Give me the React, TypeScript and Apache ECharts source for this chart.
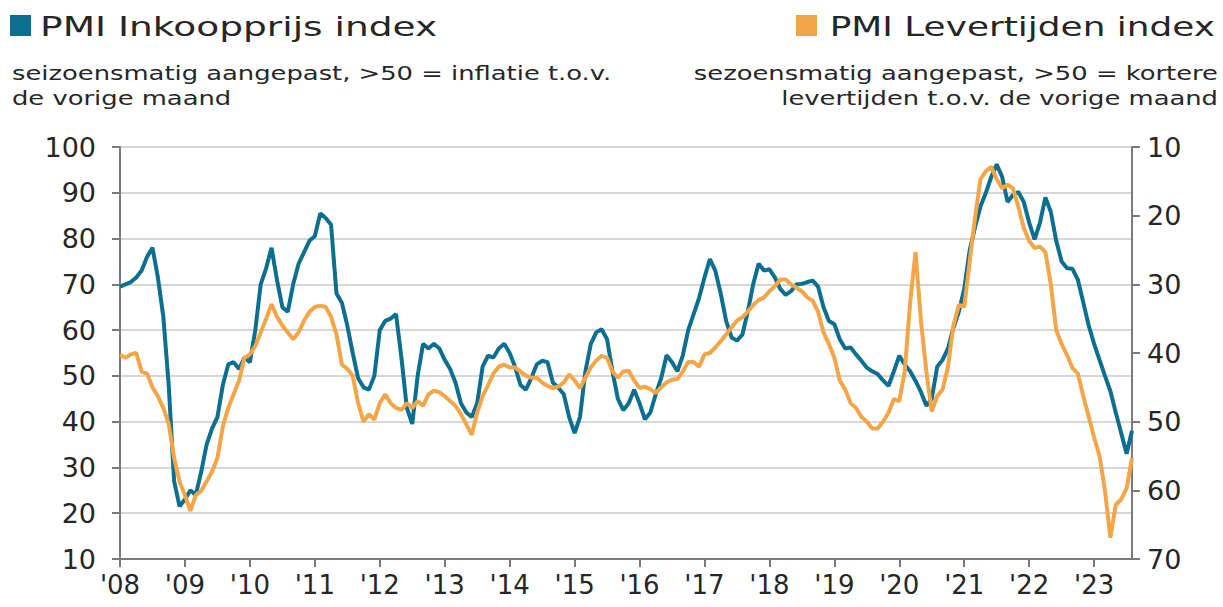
import React, { useEffect, useRef } from "react";
import * as echarts from "echarts";

// Monthly data, Jan 2008 .. Aug 2023
const startYear = 2008;

// PMI Inkoopprijs index (left axis)
const inkoopprijs: number[] = [
  // 2008
  69.5, 70, 70.5, 71.5, 73, 76, 78, 71.5, 63, 48, 27, 21.5,
  // 2009
  23, 25, 24, 29, 35, 38.5, 41, 48, 52.5, 53, 51.5, 54,
  // 2010
  53, 60, 70, 73.5, 78, 71, 65, 64, 70, 74.5, 77, 79.5,
  // 2011
  80.5, 85.5, 84.5, 83, 68, 66, 61, 55, 49.5, 47.5, 47, 50,
  // 2012
  60, 62, 62.5, 63.5, 54, 43, 39.5, 50, 57, 56, 57, 56,
  // 2013
  53.5, 51.5, 48.5, 44, 42, 41, 44, 52, 54.4, 54, 56, 57,
  // 2014
  55, 52, 48, 47, 49.5, 52.5, 53.3, 53, 48.5, 47.4, 46, 41,
  // 2015
  37.5, 41, 51, 57, 59.5, 60.2, 58, 51, 45, 42.5, 44, 47,
  // 2016
  44, 40.5, 42, 46, 49.5, 54.5, 53, 51, 54.5, 60, 63.5, 67,
  // 2017
  71.5, 75.5, 73, 68, 62, 58.4, 57.7, 59, 64, 70, 74.5, 73,
  // 2018
  73.3, 71.5, 69, 67.7, 68.5, 70, 70.1, 70.5, 70.8, 69.5, 65, 62,
  // 2019
  61.3, 58, 56, 56.2, 54.7, 53.3, 51.8, 51, 50.4, 49, 47.8, 51,
  // 2020
  54.4, 52.5, 51, 48.9, 46.5, 43.5, 45, 52, 53.5, 56, 60.5, 64,
  // 2021
  69, 77.4, 82.5, 87, 90, 93.5, 96.2, 93.5, 88, 89.5, 90.2, 88,
  // 2022
  83.5, 79.8, 83.5, 89, 85.8, 79.5, 75, 73.5, 73.4, 71, 66, 61,
  // 2023
  57, 53.5, 50, 46.7, 42, 37.5, 33, 38,
];

// PMI Levertijden index (right axis, inverted)
const levertijden: number[] = [
  // 2008
  40.3, 40.7, 40.2, 40, 42.7, 43, 45, 46.3, 48, 50.3, 55.3, 58.7,
  // 2009
  60.7, 63, 60.7, 60.1, 58.7, 57.3, 55.3, 50.7, 48, 46, 44, 40.7,
  // 2010
  40.2, 39, 37, 35, 32.9, 34.7, 36, 37, 38, 37, 35.3, 34,
  // 2011
  33.3, 33.1, 33.3, 34.7, 37.3, 41.7, 42.3, 43.3, 47.3, 50, 48.9, 49.7,
  // 2012
  47.3, 46, 47.3, 48, 48.3, 47.3, 48, 47, 47.7, 46, 45.5, 45.7,
  // 2013
  46.3, 47, 47.7, 48.9, 50.4, 51.9, 48.7, 46.3, 44.7, 43, 42, 41.7,
  // 2014
  42.1, 42.1, 42.7, 43.3, 43.6, 43.6, 44.3, 44.8, 45.1, 44.9, 44.3, 43.1,
  // 2015
  44, 45.1, 43.6, 42.1, 41.1, 40.4, 40.7, 42.7, 43.6, 42.7, 42.6, 44,
  // 2016
  45.1, 44.9, 45.3, 45.8, 45, 44.3, 43.9, 43.8, 42.7, 41.3, 41.3, 42,
  // 2017
  40.2, 40, 39.2, 38.3, 37.3, 36.3, 35.3, 34.8, 34, 33, 32.3, 31.9,
  // 2018
  31, 30.3, 29.3, 29.3, 30, 30.5, 31, 31.9, 32.4, 34, 37, 38.7,
  // 2019
  40.7, 44, 45.3, 47.3, 48, 49.3, 50, 51, 51, 50, 48.7, 46.7,
  // 2020
  47, 42.7, 32.7, 25.3, 35.3, 42.7, 48.5, 46.3, 45.3, 42, 36, 33,
  // 2021
  33.3, 26.7, 20.3, 14.7, 13.5, 12.9, 14.7, 16, 15.5, 16, 18.7, 21.8,
  // 2022
  23.7, 24.7, 24.5, 25.3, 30, 36.7, 38.7, 40.3, 42.2, 43, 46.3, 49.3,
  // 2023
  52.3, 55, 60, 66.9, 62.1, 61.3, 59.7, 55.3,
];

const leftTitle = "PMI Inkoopprijs index";
const leftSub = ["seizoensmatig aangepast, >50 = inflatie t.o.v.", "de vorige maand"];
const rightTitle = "PMI Levertijden index";
const rightSub = ["sezoensmatig aangepast, >50 = kortere", "levertijden t.o.v. de vorige maand"];

const BLUE = "#0d6f8f";
const ORANGE = "#f2a647";
const TEXT = "#262626";
const FONT = "DejaVu Sans";

export default function App() {
  const ref = useRef<HTMLDivElement>(null);

  useEffect(() => {
    document.body.style.margin = "0";
    if (!ref.current) return;
    const chart = echarts.init(ref.current, null, { renderer: "svg" });

    const toTime = (i: number) => startYear + i / 12;
    const blueData = inkoopprijs.map((v, i) => [toTime(i), v]);
    const orangeData = levertijden.map((v, i) => [toTime(i), v]);
    const xMax = toTime(inkoopprijs.length - 1);

    const titleFont = `27px "${FONT}"`;
    const subFont = `20px "${FONT}"`;
    const subScale = 1.29;

    chart.setOption({
      animation: false,
      backgroundColor: "#ffffff",
      grid: { left: 120, right: 91, top: 147, bottom: 48, containLabel: false },
      xAxis: {
        type: "value",
        min: startYear,
        max: xMax,
        interval: 1,
        axisLine: { show: true, onZero: false, lineStyle: { color: "#7a7a7a", width: 2 } },
        axisTick: { show: true, length: 8, lineStyle: { color: "#7a7a7a", width: 2 } },
        splitLine: { show: false },
        axisLabel: {
          showMaxLabel: false,
          margin: 13,
          color: TEXT,
          fontFamily: FONT,
          fontSize: 26,
          formatter: (v: number) =>
            Number.isInteger(v) ? "'" + String(v).slice(2) : "",
        },
      },
      yAxis: [
        {
          type: "value",
          min: 10,
          max: 100,
          interval: 10,
          position: "left",
          axisLine: { show: true, lineStyle: { color: "#7a7a7a", width: 2 } },
          axisTick: { show: true, length: 8, lineStyle: { color: "#7a7a7a", width: 2 } },
          splitLine: { show: true, lineStyle: { color: "#d6d6d6", width: 2 } },
          axisLabel: { margin: 24, color: TEXT, fontFamily: FONT, fontSize: 27 },
        },
        {
          type: "value",
          min: 10,
          max: 70,
          interval: 10,
          inverse: true,
          position: "right",
          axisLine: { show: true, lineStyle: { color: "#7a7a7a", width: 2 } },
          axisTick: { show: true, length: 8, lineStyle: { color: "#7a7a7a", width: 2 } },
          splitLine: { show: false },
          axisLabel: { margin: 15, color: TEXT, fontFamily: FONT, fontSize: 27 },
        },
      ],
      series: [
        {
          name: leftTitle,
          type: "line",
          yAxisIndex: 0,
          data: blueData,
          showSymbol: false,
          lineStyle: { color: BLUE, width: 4 },
          itemStyle: { color: BLUE },
          z: 2,
        },
        {
          name: rightTitle,
          type: "line",
          yAxisIndex: 1,
          data: orangeData,
          showSymbol: false,
          lineStyle: { color: ORANGE, width: 4 },
          itemStyle: { color: ORANGE },
          z: 3,
        },
      ],
      graphic: [
        { type: "rect", shape: { x: 10, y: 15, width: 21, height: 21 }, style: { fill: BLUE } },
        {
          type: "text",
          x: 40,
          y: 27,
          scaleX: 1.39,
          style: { text: leftTitle, font: titleFont, fill: TEXT, verticalAlign: "middle" },
        },
        {
          type: "text",
          x: 12,
          y: 73,
          scaleX: subScale,
          style: { text: leftSub[0], font: subFont, fill: TEXT, verticalAlign: "middle" },
        },
        {
          type: "text",
          x: 12,
          y: 98,
          scaleX: subScale,
          style: { text: leftSub[1], font: subFont, fill: TEXT, verticalAlign: "middle" },
        },
        { type: "rect", shape: { x: 796, y: 15, width: 21, height: 21 }, style: { fill: ORANGE } },
        {
          type: "text",
          x: 1215,
          y: 27,
          scaleX: 1.33,
          style: { text: rightTitle, font: titleFont, fill: TEXT, align: "right", verticalAlign: "middle" },
        },
        {
          type: "text",
          x: 1218,
          y: 73,
          scaleX: subScale,
          style: { text: rightSub[0], font: subFont, fill: TEXT, align: "right", verticalAlign: "middle" },
        },
        {
          type: "text",
          x: 1218,
          y: 98,
          scaleX: subScale,
          style: { text: rightSub[1], font: subFont, fill: TEXT, align: "right", verticalAlign: "middle" },
        },
      ],
    });

    return () => chart.dispose();
  }, []);

  return <div ref={ref} style={{ width: 1223, height: 607 }} />;
}
